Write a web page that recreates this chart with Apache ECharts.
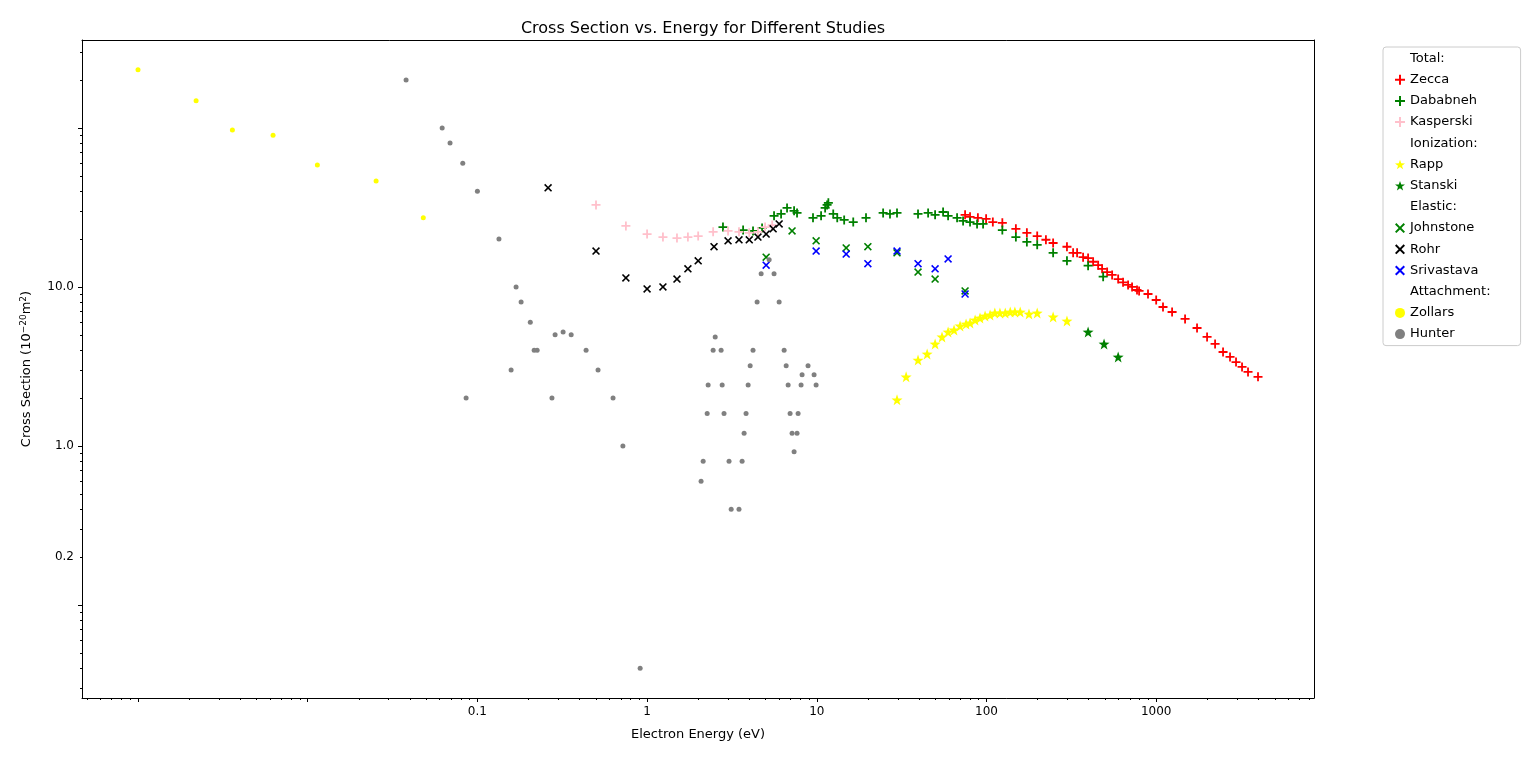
<!DOCTYPE html>
<html>
<head>
<meta charset="utf-8">
<script src="https://cdn.jsdelivr.net/npm/echarts@6/dist/echarts.min.js"></script>
<style>html,body{margin:0;padding:0;background:#fff}#main{width:1536px;height:762px}</style>
</head>
<body>
<div id="main"></div>
<script>
var myChart = echarts.init(document.getElementById('main'));

// 能量(eV), 截面(1e-20 m^2)
var studies = {
	Zecca: [[74.8,28.4],[80,27.6],[89,27.2],[99.5,26.8],[109,25.6],[124,25.3],[149,23.2],[173,21.9],[199,20.9],[224,19.8],[247,18.9],[298,17.9],[324,16.4],[342,16.4],[371,15.4],[397,15.2],[425,14.4],[455,13.7],[480,13.0],[514,12.4],[550,11.9],[597,11.2],[638,10.7],[683,10.3],[721,10],[771,9.57],[793,9.44],[895,9.03],[1000,8.28],[1097,7.48],[1241,6.96],[1480,6.29],[1741,5.52],[1995,4.85],[2224,4.38],[2478,3.9],[2724,3.63],[2955,3.37],[3206,3.14],[3477,2.92],[3982,2.72]],
	Dababneh: [[2.8,23.8],[3.68,22.8],[4.21,22.5],[4.76,23.5],[5.6,28],[6.16,28.8],[6.68,31.4],[7.35,30.1],[7.65,29.2],[9.5,27.2],[10.6,28],[11.2,31.4],[11.5,32.8],[11.7,33.8],[12.5,28.8],[13.2,27.2],[14.5,26.4],[16.4,25.6],[19.5,27.2],[24.6,29.2],[27,28.8],[29.7,29.2],[39.5,28.8],[45.3,29.2],[49.8,28.4],[55.5,29.6],[59.4,28],[67.1,27.2],[72.8,26],[80,25.6],[88,24.9],[95.5,24.9],[124,22.8],[149,20.6],[173,19.2],[199,18.4],[247,16.4],[298,14.6],[397,13.6],[487,11.6]],
	Kasperski: [[0.5,32.8],[0.75,24.2],[1.0,21.5],[1.24,20.6],[1.5,20.3],[1.74,20.6],[2.0,20.9],[2.45,22.2],[3.0,22.5],[3.48,22.2],[4.0,21.9],[4.5,22.2],[4.96,23.8],[5.46,24.5]],
	Rapp: [[29.7,1.95],[33.6,2.72],[39.5,3.47],[44.7,3.79],[49.8,4.38],[54.7,4.85],[59.4,5.21],[64.4,5.37],[69.9,5.69],[75.8,5.85],[80,5.94],[85.7,6.2],[91.6,6.38],[98.1,6.57],[105,6.67],[112,6.86],[120,6.86],[129,6.86],[138,6.96],[147,6.96],[158,6.96],[178,6.76],[199,6.86],[247,6.48],[298,6.11]],
	Stanski: [[397,5.21],[493,4.38],[597,3.63]],
	Johnstone: [[5.03,15.4],[7.15,22.5],[9.91,19.5],[14.9,17.6],[20,17.9],[29.7,16.4],[39.5,12.4],[49.8,11.2],[74.8,9.44]],
	Rohr: [[0.261,42],[0.5,16.8],[0.75,11.4],[1.0,9.71],[1.24,10],[1.5,11.2],[1.74,13],[2.0,14.6],[2.48,17.9],[3.0,19.5],[3.48,19.8],[4.0,19.8],[4.5,20.6],[5.03,21.5],[5.53,23.2],[6.0,24.9]],
	Srivastava: [[5.03,13.7],[9.91,16.8],[14.9,16.1],[20,14],[29.7,16.8],[39.5,14],[49.8,13],[59.4,15],[74.8,9.03]],
	Zollars: [[0.001,232],[0.0022,148],[0.0036,97],[0.00625,90],[0.0114,58.5],[0.0253,46.4],[0.048,27.2]],
	Hunter: [[0.038,200],[0.062,100],[0.069,80.5],[0.082,60],[0.1,40],[0.134,20],[0.169,10],[0.181,8.05],[0.205,6],[0.287,5],[0.32,5.2],[0.357,5],[0.216,4],[0.225,4],[0.437,4],[0.158,3],[0.514,3],[0.0858,2],[0.275,2],[0.63,2],[0.72,1],[0.91,0.04],
		[5.24,14.8],[4.7,12.1],[5.6,12.1],[4.45,8.05],[6.0,8.05],[2.52,4.85],[2.45,4],[2.73,4],[4.21,4],[6.42,4],[4.05,3.2],[6.6,3.2],[8.88,3.2],[8.19,2.8],[9.64,2.8],[2.29,2.42],[2.77,2.42],[3.94,2.42],[6.78,2.42],[8.08,2.42],[9.91,2.42],[2.26,1.6],[2.84,1.6],[3.83,1.6],[6.96,1.6],[7.76,1.6],[3.73,1.2],[7.15,1.2],[7.65,1.2],[7.35,0.92],[2.14,0.8],[3.04,0.8],[3.63,0.8],[2.08,0.6],[3.13,0.4],[3.48,0.4]]
};

var PLUS = 'path://M-1,-0.2H-0.2V-1H0.2V-0.2H1V0.2H0.2V1H-0.2V0.2H-1Z';
var CROSS = 'path://M-1,-0.72L-0.72,-1L0,-0.28L0.72,-1L1,-0.72L0.28,0L1,0.72L0.72,1L0,0.28L-0.72,1L-1,0.72L-0.28,0Z';
var STAR = 'path://M0,-1L0.235,-0.324L0.951,-0.309L0.38,0.124L0.588,0.809L0,0.4L-0.588,0.809L-0.38,0.124L-0.951,-0.309L-0.235,-0.324Z';

var groups = [
	['Total:', null],
	['Zecca', 'red', PLUS, 9],
	['Dababneh', 'green', PLUS, 9],
	['Kasperski', 'pink', PLUS, 9],
	['Ionization:', null],
	['Rapp', 'yellow', STAR, 11],
	['Stanski', 'green', STAR, 11],
	['Elastic:', null],
	['Johnstone', 'green', CROSS, 8],
	['Rohr', 'black', CROSS, 8],
	['Srivastava', 'blue', CROSS, 8],
	['Attachment:', null],
	['Zollars', 'yellow', 'circle', 5],
	['Hunter', 'gray', 'circle', 5]
];

function lg(v) { return Math.log10(v); }

var series = [];
var legendData = [];
groups.forEach(function(g) {
	if (!g[1]) {
		series.push({ name: g[0], type: 'scatter', data: [], itemStyle: { color: 'rgba(255,255,255,0)' } });
		legendData.push({ name: g[0], icon: 'none' });
		return;
	}
	series.push({
		name: g[0],
		type: 'scatter',
		symbol: g[2],
		symbolSize: g[3],
		itemStyle: { color: g[1], opacity: 1 },
		data: studies[g[0]].map(function(p) { return [lg(p[0]), lg(p[1])]; })
	});
	legendData.push({ name: g[0], icon: g[2], itemStyle: { color: g[1], opacity: 1 } });
});

var xMajor = [-3, -2, -1, 0, 1, 2, 3];
var xMinor = [];
for (var e = -4; e <= 3; e++) for (var k = 2; k <= 9; k++) {
	var v = e + lg(k);
	if (v > -3.33 && v < 3.93) xMinor.push(v);
}
var yMinor = [];
for (var e2 = -2; e2 <= 2; e2++) for (var k2 = 2; k2 <= 9; k2++) {
	var v2 = e2 + lg(k2);
	if (v2 > -1.585 && v2 < 2.553) yMinor.push(v2);
}

function fmtX(v) { return String(+Math.pow(10, v).toPrecision(3)); }
function fmtY(v) { return Math.pow(10, v).toFixed(1); }

var axisBase = { type: 'value', splitLine: { show: false }, axisLine: { onZero: false, lineStyle: { color: '#000' } } };
var font = { fontFamily: 'DejaVu Sans', fontSize: 12, color: '#000' };

option = {
	backgroundColor: '#fff',
	animation: false,
	title: {
		text: 'Cross Section vs. Energy for Different Studies',
		left: 698, top: 16, textAlign: 'center',
		textStyle: { fontFamily: 'DejaVu Sans', fontSize: 16, fontWeight: 'normal', color: '#000' }
	},
	legend: {
		orient: 'vertical', left: 1383, top: 47, width: 134,
		padding: [5, 30, 5, 12], itemGap: 8.2, itemWidth: 10, itemHeight: 10,
		borderColor: '#ccc', borderWidth: 1, borderRadius: 3,
		textStyle: { fontFamily: 'DejaVu Sans', fontSize: 13, color: '#000' },
		data: legendData
	},
	grid: { left: 82, right: 222, top: 40, bottom: 64 },
	xAxis: [
		Object.assign({}, axisBase, {
			min: -3.33, max: 3.93,
			name: 'Electron Energy (eV)', nameLocation: 'middle', nameGap: 30,
			nameTextStyle: { fontFamily: 'DejaVu Sans', fontSize: 13, color: '#000' },
			axisTick: { customValues: xMajor, length: 4, lineStyle: { color: '#000' } },
			axisLabel: Object.assign({ customValues: [-1, 0, 1, 2, 3], formatter: fmtX }, font)
		}),
		Object.assign({}, axisBase, {
			min: -3.33, max: 3.93, position: 'bottom', axisLine: { show: false, onZero: false },
			axisTick: { customValues: xMinor, length: 2, lineStyle: { color: '#000' } },
			axisLabel: { show: false }
		}),
		Object.assign({}, axisBase, {
			min: -3.33, max: 3.93, position: 'top',
			axisTick: { show: false }, axisLabel: { show: false }
		})
	],
	yAxis: [
		Object.assign({}, axisBase, {
			min: -1.585, max: 2.553,
			name: 'Cross Section ({a|10}{b|−20}{a|m}{b|2})', nameLocation: 'middle', nameGap: 48,
			nameTextStyle: { fontFamily: 'DejaVu Sans', fontSize: 13, color: '#000',
				rich: { a: { fontFamily: 'DejaVu Sans', fontSize: 13 }, b: { fontFamily: 'DejaVu Sans', fontSize: 9, verticalAlign: 'bottom', padding: [0, 0, 6, 0] } } },
			axisTick: { customValues: [-1, 0, 1, 2], length: 4, lineStyle: { color: '#000' } },
			axisLabel: Object.assign({ customValues: [lg(0.2), 0, 1], formatter: fmtY }, font)
		}),
		Object.assign({}, axisBase, {
			min: -1.585, max: 2.553, position: 'left', axisLine: { show: false, onZero: false },
			axisTick: { customValues: yMinor, length: 2, lineStyle: { color: '#000' } },
			axisLabel: { show: false }
		}),
		Object.assign({}, axisBase, {
			min: -1.585, max: 2.553, position: 'right',
			axisTick: { show: false }, axisLabel: { show: false }
		})
	],
	series: series
};

myChart.setOption(option);
</script>
</body>
</html>
